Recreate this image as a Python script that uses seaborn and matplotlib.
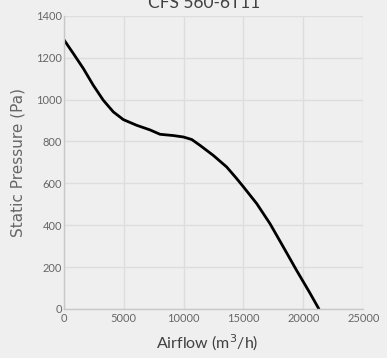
import matplotlib
matplotlib.use("Agg")
import matplotlib.pyplot as plt
import seaborn as sns
import pandas as pd

title = "CFS 560-6T11"
airflow = [0, 800, 1640, 2470, 3300, 4140, 4980, 6090, 7200, 8040, 9150, 10000,
           10690, 11380, 12490, 13600, 14400, 15000, 16110, 17220, 18330, 19440,
           20550, 21300]
pressure = [1287, 1220, 1148, 1068, 997, 941, 904, 877, 855, 834, 828, 821,
            809, 781, 733, 678, 625, 583, 503, 407, 296, 184, 76, 0]
x_ticks = [0, 5000, 10000, 15000, 20000, 25000]
y_ticks = [0, 200, 400, 600, 800, 1000, 1200, 1400]

df = pd.DataFrame({"Airflow": airflow, "Pressure": pressure})

bg = "#efefef"
sns.set_theme(style="white", rc={"figure.facecolor": bg, "axes.facecolor": bg})
plt.rcParams["font.family"] = ["Lato", "DejaVu Sans"]

fig = plt.figure(figsize=(3.87, 3.58), dpi=100)
ax = fig.add_axes([0.1646, 0.137, 0.774, 0.819])

sns.lineplot(data=df, x="Airflow", y="Pressure", ax=ax, color="black",
             linewidth=2.0, sort=False)

ax.set_xlim(0, 25000)
ax.set_ylim(0, 1400)
ax.set_xticks(x_ticks)
ax.set_yticks(y_ticks)
ax.grid(True, color="#dddddd", linewidth=1.0)
ax.set_axisbelow(True)
for s in ["top", "right"]:
    ax.spines[s].set_visible(False)
for s in ["left", "bottom"]:
    ax.spines[s].set_color("#c8c8c8")
    ax.spines[s].set_linewidth(1.0)
ax.tick_params(axis="both", length=0, labelsize=8, labelcolor="#666666")
ax.tick_params(axis="x", pad=3)
ax.tick_params(axis="y", pad=1)

ax.set_xlabel("Airflow (m$^3$/h)", fontsize=11.5, color="#404040", labelpad=6,
              x=0.48)
ax.set_ylabel("Static Pressure (Pa)", fontsize=11, color="#666666", labelpad=8,
              family=["DejaVu Sans"])

fig.text(0.527, 0.978, title, ha="center", va="baseline", fontsize=12.5,
         color="#404040")

fig.savefig("out.png", dpi=100, facecolor=bg)
